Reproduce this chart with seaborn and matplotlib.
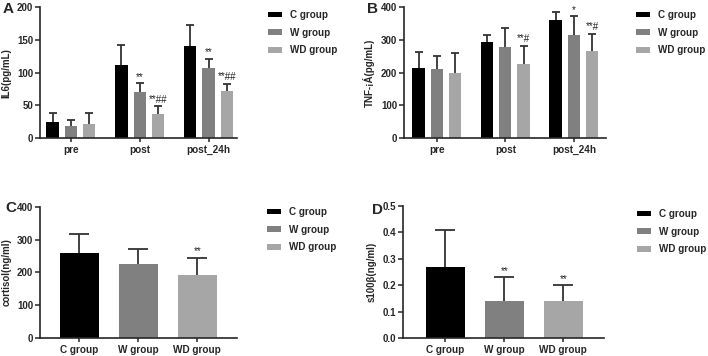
import numpy as np
import pandas as pd
import seaborn as sns
import matplotlib.pyplot as plt
from matplotlib.patches import Patch

sns.set_style("ticks")
plt.rcParams['font.family'] = ['Liberation Sans', 'DejaVu Sans']
plt.rcParams['font.weight'] = 'bold'
plt.rcParams['axes.labelweight'] = 'bold'

groups = ['C group', 'W group', 'WD group']
times = ['pre', 'post', 'post_24h']
colors = ['#000000', '#808080', '#a6a6a6']

# panel A: IL6 (mean, upper end of error bar), one list per group over times
il6_c = [25, 111, 140]
il6_c_top = [38, 142, 172]
il6_w = [18, 70, 107]
il6_w_top = [27, 84, 121]
il6_wd = [22, 37, 72]
il6_wd_top = [38, 49, 83]
il6_marks = {('post', 'W group'): '**', ('post', 'WD group'): '**##',
             ('post_24h', 'W group'): '**', ('post_24h', 'WD group'): '**##'}

# panel B: TNF
tnf_c = [213, 293, 361]
tnf_c_top = [263, 315, 385]
tnf_w = [211, 279, 315]
tnf_w_top = [251, 335, 372]
tnf_wd = [200, 227, 265]
tnf_wd_top = [259, 282, 319]
tnf_marks = {('post', 'WD group'): '**#',
             ('post_24h', 'W group'): '*', ('post_24h', 'WD group'): '**#'}

# panel C: cortisol
cort_mean = [258, 225, 192]
cort_top = [319, 273, 244]
cort_marks = ['', '', '**']

# panel D: s100b
s100_mean = [0.27, 0.14, 0.14]
s100_top = [0.41, 0.23, 0.20]
s100_marks = ['', '**', '**']


def upper_err(ax, cx, v, top, capsize):
    eb = ax.errorbar(cx, v, yerr=[[0], [top - v]], fmt='none',
                     ecolor='#333333', elinewidth=1.3, capsize=capsize, capthick=1.3)
    # keep only the upper cap
    eb[1][0].set_visible(False)


def grouped(ax, means, tops, marks, ylabel, ymax, xlim, capsize, off):
    rows = []
    for g, m, t in zip(groups, means, tops):
        for tm, v, e in zip(times, m, t):
            rows.append({'time': tm, 'group': g, 'value': v, 'top': e})
    df = pd.DataFrame(rows)
    sns.barplot(data=df, x='time', y='value', hue='group', hue_order=groups,
                order=times, palette=colors, width=0.8, gap=0.33,
                errorbar=None, legend=False, ax=ax, saturation=1, linewidth=0)
    i = 0
    for g in groups:
        for tm in times:
            p = ax.patches[i]
            r = df[(df.group == g) & (df.time == tm)].iloc[0]
            cx = p.get_x() + p.get_width() / 2
            upper_err(ax, cx, r.value, r.top, capsize)
            m = marks.get((tm, g), '')
            if m:
                ax.text(cx, r.top + off, m, ha='center', va='bottom', fontsize=7,
                        fontweight='normal', color='#222222')
            i += 1
    ax.set_ylim(0, ymax)
    ax.set_xlim(*xlim)
    ax.set_ylabel(ylabel, fontsize=7)
    ax.set_xlabel('')


def single(ax, means, tops, marks, ylabel, ymax, xlim, off):
    df = pd.DataFrame({'group': groups, 'value': means, 'top': tops})
    sns.barplot(data=df, x='group', y='value', hue='group', order=groups,
                palette=colors, width=0.66, errorbar=None, legend=False,
                ax=ax, saturation=1, linewidth=0)
    for k, g in enumerate(groups):
        p = ax.patches[k]
        cx = p.get_x() + p.get_width() / 2
        upper_err(ax, cx, means[k], tops[k], 7)
        if marks[k]:
            ax.text(cx, tops[k] + off, marks[k], ha='center', va='bottom', fontsize=7,
                    fontweight='normal', color='#222222')
    ax.set_ylim(0, ymax)
    ax.set_xlim(*xlim)
    ax.set_ylabel(ylabel, fontsize=7)
    ax.set_xlabel('')


def style(ax, fig, letter, lx, ly, leg_x, leg_y):
    sns.despine(ax=ax)
    for s in ['left', 'bottom']:
        ax.spines[s].set_linewidth(1.2)
    ax.tick_params(axis='both', width=1.1, length=3.5, labelsize=7, pad=1.5)
    ax.tick_params(axis='x', labelsize=7.2, length=3, pad=2)
    for t in ax.get_xticklabels() + ax.get_yticklabels():
        t.set_fontweight('bold')
    fig.text(lx, ly, letter, fontsize=11, fontweight='bold', ha='left', va='center')
    handles = [Patch(facecolor=c, edgecolor='none', label=g) for c, g in zip(colors, groups)]
    ax.legend(handles=handles, loc='upper left', bbox_to_anchor=(leg_x, leg_y),
              bbox_transform=fig.transFigure, frameon=False, fontsize=7.1,
              handlelength=1.45, handleheight=0.5, handletextpad=0.8,
              labelspacing=0.78, borderpad=0, borderaxespad=0)


fig = plt.figure(figsize=(7.08, 3.56), dpi=100)
axA = fig.add_axes([0.0565, 0.612, 0.278, 0.368])
axB = fig.add_axes([0.5706, 0.612, 0.2853, 0.368])
axC = fig.add_axes([0.0565, 0.0506, 0.278, 0.368])
axD = fig.add_axes([0.569, 0.0506, 0.284, 0.3704])

grouped(axA, [il6_c, il6_w, il6_wd], [il6_c_top, il6_w_top, il6_wd_top], il6_marks,
        'IL6(pg/mL)', 200, (-0.45, 2.41), 3, 2)
axA.set_yticks([0, 50, 100, 150, 200])
grouped(axB, [tnf_c, tnf_w, tnf_wd], [tnf_c_top, tnf_w_top, tnf_wd_top], tnf_marks,
        'TNF-¡Á(pg/mL)', 400, (-0.48, 2.47), 3, 4)
axB.set_yticks([0, 100, 200, 300, 400])
single(axC, cort_mean, cort_top, cort_marks, 'cortisol(ng/ml)', 400, (-0.67, 2.67), 6)
axC.set_yticks([0, 100, 200, 300, 400])
single(axD, s100_mean, s100_top, s100_marks, 's100β(ng/ml)', 0.5, (-0.72, 2.69), 0.006)
axD.set_yticks([0, 0.1, 0.2, 0.3, 0.4, 0.5])

style(axA, fig, 'A', 0.004, 1 - 9 / 356, 0.3785, 1 - 10 / 356)
style(axB, fig, 'B', 0.518, 1 - 9 / 356, 0.898, 1 - 10 / 356)
style(axC, fig, 'C', 0.008, 1 - 208 / 356, 0.377, 1 - 207 / 356)
style(axD, fig, 'D', 0.525, 1 - 210 / 356, 0.9, 1 - 209 / 356)

fig.savefig('out.png', dpi=100)
